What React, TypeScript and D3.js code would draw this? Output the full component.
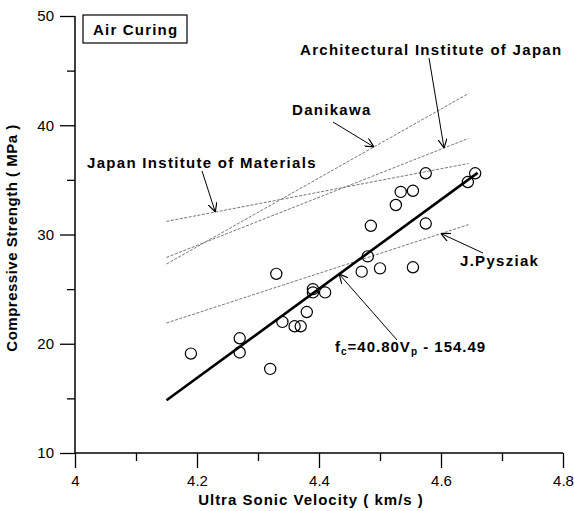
import { useEffect, useRef } from "react";
import * as d3 from "d3";

// measured points (km/s, MPa)
const velocity = [4.19, 4.27, 4.27, 4.32, 4.33, 4.34, 4.36, 4.37, 4.38, 4.39, 4.39, 4.41,
  4.47, 4.48, 4.485, 4.50, 4.526, 4.534, 4.554, 4.554, 4.575, 4.575, 4.644, 4.656];
const strength = [19.1, 20.5, 19.2, 17.7, 26.4, 22.0, 21.6, 21.6, 22.9, 25.0, 24.7, 24.7,
  26.6, 28.0, 30.8, 26.9, 32.7, 33.9, 34.0, 27.0, 35.6, 31.0, 34.8, 35.6];

// other equations, drawn as straight segments
const refNames = ["Danikawa", "Architectural Institute of Japan", "Japan Institute of Materials", "J.Pysziak"];
const refStartV = [4.15, 4.15, 4.15, 4.15];
const refEndV = [4.645, 4.645, 4.645, 4.645];
const refStartS = [27.3, 27.9, 31.2, 21.9];
const refEndS = [42.9, 38.8, 36.5, 30.9];

// regression fc = 40.80 Vp - 154.49
const fitSlope = 40.8;
const fitIntercept = -154.49;
const fitRange = [4.15, 4.66];

const xTicks = [4, 4.2, 4.4, 4.6, 4.8];
const yTicks = [10, 20, 30, 40, 50];

function App() {
  const svgRef = useRef<SVGSVGElement>(null);
  const width = 574;
  const height = 511;

  useEffect(() => {
    const svg = d3.select(svgRef.current);
    svg.selectAll("*").remove();

    const x = d3.scaleLinear().domain([4, 4.8]).range([75, 563]);
    const y = d3.scaleLinear().domain([10, 50]).range([453, 16]);
    const font = "'Liberation Sans', Arial, sans-serif";

    const defs = svg.append("defs");
    defs.append("marker")
      .attr("id", "arr")
      .attr("viewBox", "0 0 10 10")
      .attr("refX", 10)
      .attr("refY", 5)
      .attr("markerWidth", 9)
      .attr("markerHeight", 9)
      .attr("markerUnits", "userSpaceOnUse")
      .attr("orient", "auto")
      .append("path")
      .attr("d", "M0,0 L10,5 L0,10")
      .attr("fill", "none")
      .attr("stroke", "#000")
      .attr("stroke-width", 1.3);

    // axes
    const xAxis = svg.append("g").attr("transform", `translate(0,${y(10)})`)
      .call(d3.axisBottom(x).tickValues(xTicks).tickSize(15).tickPadding(4).tickFormat(d3.format("")));
    svg.append("g").attr("transform", `translate(0,${y(10)})`)
      .call(d3.axisBottom(x).tickValues([4.1, 4.3, 4.5, 4.7]).tickSize(8).tickFormat(() => ""))
      .select(".domain").remove();
    const yAxis = svg.append("g").attr("transform", `translate(${x(4)},0)`)
      .call(d3.axisLeft(y).tickValues(yTicks).tickSize(15).tickPadding(6));
    svg.append("g").attr("transform", `translate(${x(4)},0)`)
      .call(d3.axisLeft(y).tickValues([15, 25, 35, 45]).tickSize(8).tickFormat(() => ""))
      .select(".domain").remove();

    xAxis.select(".domain").attr("d", `M${x(4)},0H${x(4.8)}`).attr("stroke-width", 1.5);
    yAxis.select(".domain").attr("d", `M0,${y(50)}V${y(10)}`).attr("stroke-width", 1.5);
    svg.selectAll(".tick line").attr("stroke-width", 1.3);
    svg.selectAll(".tick text").attr("font-family", font).attr("font-size", 15).attr("fill", "#000");
    xAxis.selectAll(".tick text").attr("dy", "0.9em");

    // axis titles
    svg.append("text")
      .attr("x", 311).attr("y", 505)
      .attr("text-anchor", "middle")
      .attr("font-family", font).attr("font-weight", "bold").attr("font-size", 15)
      .attr("letter-spacing", 1)
      .text("Ultra Sonic Velocity ( km/s )");
    svg.append("text")
      .attr("transform", "translate(17,238) rotate(-90)")
      .attr("text-anchor", "middle")
      .attr("font-family", font).attr("font-weight", "bold").attr("font-size", 15)
      .attr("letter-spacing", 0.5)
      .text("Compressive Strength ( MPa )");

    // reference lines
    svg.append("g").selectAll("line")
      .data(refNames)
      .join("line")
      .attr("x1", (d, i) => x(refStartV[i]))
      .attr("y1", (d, i) => y(refStartS[i]))
      .attr("x2", (d, i) => x(refEndV[i]))
      .attr("y2", (d, i) => y(refEndS[i]))
      .attr("stroke", "#666")
      .attr("stroke-width", 0.9)
      .attr("stroke-dasharray", "3 1.5");

    // fit line
    const fit = (v: number) => fitSlope * v + fitIntercept;
    svg.append("line")
      .attr("x1", x(fitRange[0])).attr("y1", y(fit(fitRange[0])))
      .attr("x2", x(fitRange[1])).attr("y2", y(fit(fitRange[1])))
      .attr("stroke", "#000")
      .attr("stroke-width", 2.6);

    // points
    svg.append("g").selectAll("circle")
      .data(velocity)
      .join("circle")
      .attr("cx", (d) => x(d))
      .attr("cy", (d, i) => y(strength[i]))
      .attr("r", 5.6)
      .attr("fill", "none")
      .attr("stroke", "#000")
      .attr("stroke-width", 1.2);

    // legend box
    svg.append("rect")
      .attr("x", 83).attr("y", 15).attr("width", 104).attr("height", 28)
      .attr("fill", "#fff").attr("stroke", "#000").attr("stroke-width", 1.2);
    svg.append("text")
      .attr("x", 93).attr("y", 35)
      .attr("font-family", font).attr("font-weight", "bold").attr("font-size", 15)
      .attr("letter-spacing", 1.2)
      .text("Air Curing");

    // annotations: label position, arrow start, arrow tip on its line
    const refAt = (i: number, v: number) =>
      refStartS[i] + (refEndS[i] - refStartS[i]) * (v - refStartV[i]) / (refEndV[i] - refStartV[i]);
    const notes = [
      { label: refNames[1], lx: 300, ly: 55, ax: 429, ay: 58, tip: [4.605, refAt(1, 4.605)] },
      { label: refNames[0], lx: 292, ly: 115, ax: 333, ay: 122, tip: [4.49, refAt(0, 4.49)] },
      { label: refNames[2], lx: 87, ly: 168, ax: 202, ay: 171, tip: [4.23, refAt(2, 4.23)] },
      { label: refNames[3], lx: 460, ly: 266, ax: 483, ay: 253, tip: [4.60, refAt(3, 4.60)] },
    ];
    const g = svg.append("g");
    g.selectAll("line")
      .data(notes)
      .join("line")
      .attr("x1", (d) => d.ax).attr("y1", (d) => d.ay)
      .attr("x2", (d) => x(d.tip[0])).attr("y2", (d) => y(d.tip[1]))
      .attr("stroke", "#000").attr("stroke-width", 1)
      .attr("marker-end", "url(#arr)");
    g.selectAll("text")
      .data(notes)
      .join("text")
      .attr("x", (d) => d.lx).attr("y", (d) => d.ly)
      .attr("font-family", font).attr("font-weight", "bold").attr("font-size", 15)
      .attr("letter-spacing", 1.3)
      .text((d) => d.label);

    // equation label
    svg.append("line")
      .attr("x1", 397).attr("y1", 340)
      .attr("x2", x(4.433)).attr("y2", y(fit(4.433)))
      .attr("stroke", "#000").attr("stroke-width", 1)
      .attr("marker-end", "url(#arr)");
    const eq = svg.append("text")
      .attr("x", 335).attr("y", 352)
      .attr("font-family", font).attr("font-weight", "bold").attr("font-size", 15)
      .attr("letter-spacing", 1);
    eq.append("tspan").text("f");
    eq.append("tspan").attr("font-size", 10).attr("dy", 3).text("c");
    eq.append("tspan").attr("dy", -3).text("=40.80V");
    eq.append("tspan").attr("font-size", 10).attr("dy", 3).text("p");
    eq.append("tspan").attr("dy", -3).text(" - 154.49");
  }, []);

  return (
    <svg
      ref={svgRef}
      width={width}
      height={height}
      style={{ position: "absolute", left: 0, top: 0, background: "#fff" }}
    />
  );
}

export default App;
